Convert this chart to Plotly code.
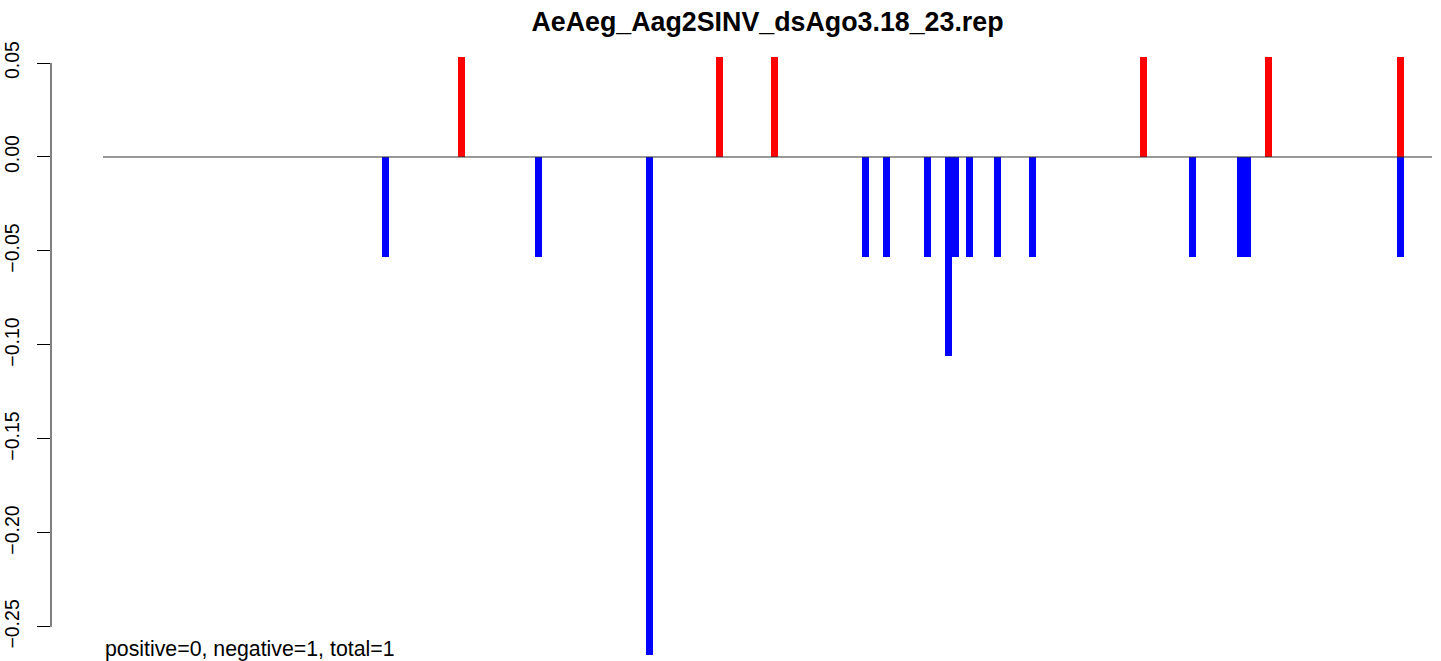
import plotly.graph_objects as go

# ---- data ----
title_text = "AeAeg_Aag2SINV_dsAgo3.18_23.rep"
summary_text = "positive=0, negative=1, total=1"
genome_length = 11700

pos_positions = [3156, 5427, 5912, 9160, 10261, 11423]
pos_values = [0.053, 0.053, 0.053, 0.053, 0.053, 0.053]

neg_positions = [2487, 3834, 4811, 6713, 6898, 7259, 7443, 7505, 7628, 7875,
                 8183, 9592, 10014, 10076, 11423]
neg_values = [-0.053, -0.053, -0.265, -0.053, -0.053, -0.053, -0.106, -0.053,
              -0.053, -0.053, -0.053, -0.053, -0.053, -0.053, -0.053]

y_ticks = [-0.25, -0.20, -0.15, -0.10, -0.05, 0.00, 0.05]

# ---- layout geometry (page body margin removed via post_script) ----
W, H = 1441, 661
plot_left, plot_top, plot_bottom, plot_right = 51, 57, 656, 1441
ml = plot_left
mt = plot_top
mb = H - plot_bottom
mr = W - plot_right
px_per_nt = 1329 / genome_length
line_left_px = 103
x_range = [(plot_left - line_left_px) / px_per_nt, (plot_right - line_left_px) / px_per_nt]
y_range = [-0.2655, 0.0532]
bar_w = 7 / px_per_nt

FONT = "Liberation Sans, Arial, Helvetica, sans-serif"

fig = go.Figure()
fig.add_trace(go.Bar(x=pos_positions, y=pos_values, width=bar_w,
                     marker=dict(color="#FF0000", line=dict(width=0)),
                     showlegend=False, hoverinfo="x+y"))
fig.add_trace(go.Bar(x=neg_positions, y=neg_values, width=bar_w,
                     marker=dict(color="#0000FF", line=dict(width=0)),
                     showlegend=False, hoverinfo="x+y"))

# horizontal zero line across the genome
fig.add_shape(type="line", xref="x", yref="y", x0=0, x1=genome_length, y0=0, y1=0,
              line=dict(color="#333333", width=1), layer="above")
# R-style y axis line spanning first to last tick
fig.add_shape(type="line", xref="paper", yref="y", x0=0, x1=0,
              y0=min(y_ticks), y1=max(y_ticks),
              line=dict(color="black", width=1))

fig.add_annotation(text=summary_text, xref="x", yref="y", x=0, y=-0.2617,
                   xanchor="left", yanchor="middle", showarrow=False,
                   font=dict(family=FONT, size=21.3, color="black"))

title_center_paper = (767.5 - plot_left) / (plot_right - plot_left)
fig.update_layout(
    width=W, height=H,
    margin=dict(l=ml, r=mr, t=mt, b=mb, pad=0, autoexpand=False),
    paper_bgcolor="white", plot_bgcolor="white",
    barmode="overlay", bargap=0,
    title=dict(text="<b>" + title_text + "</b>", x=title_center_paper, xref="paper",
               xanchor="center", y=1 - 22 / H, yref="container", yanchor="middle",
               font=dict(family=FONT, size=26.8, color="black")),
    xaxis=dict(range=x_range, visible=False, showgrid=False, zeroline=False,
               automargin=False),
    yaxis=dict(range=y_range, tickvals=y_ticks, tickformat=".2f", tickangle=-90,
               ticks="outside", ticklen=13, tickwidth=1, tickcolor="black",
               showline=False, showgrid=False, zeroline=False, automargin=False,
               ticklabelstandoff=10,
               tickfont=dict(family=FONT, size=19.5, color="black")),
    font=dict(family=FONT),
)

fig.write_html(
    "out.html",
    config={"displayModeBar": False},
    post_script="document.body.style.margin='0';document.body.style.overflow='hidden';",
)
